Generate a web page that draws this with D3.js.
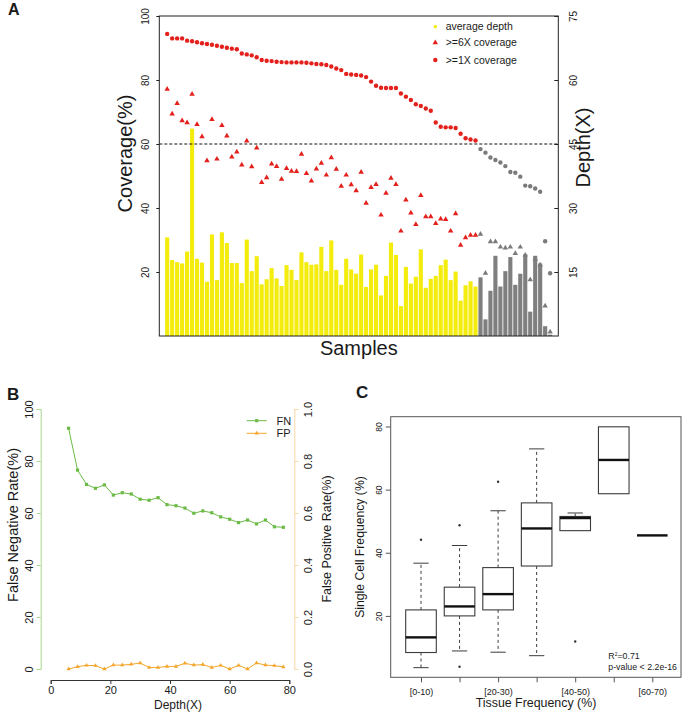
<!DOCTYPE html>
<html><head><meta charset="utf-8">
<script src="https://cdn.jsdelivr.net/npm/d3@7"></script>
<style>body{margin:0;background:#fff}svg{display:block;font-family:"Liberation Sans",Arial,Helvetica,sans-serif}</style>
</head><body>
<svg id="chart" width="685" height="716"></svg>
<script>
// ---------------- Panel A data ----------------
const avgDepth = [23.1,17.8,17.3,17.0,19.8,48.6,18.1,17.2,12.7,23.8,
  13.1,24.3,21.8,17.1,17.1,12.4,22.6,15.2,18.7,12.1,
  13.3,15.9,13.5,11.7,16.6,15.5,13.1,19.6,17.3,16.7,
  16.8,20.9,15.2,22.4,15.5,12.0,18.1,15.6,14.6,19.1,
  11.5,15.6,16.7,9.5,14.1,21.9,19.0,7.0,16.2,12.3,
  13.9,20.3,11.3,13.4,14.1,16.6,17.9,13.1,15.1,8.3,
  11.9,12.8,11.6,13.75,3.9,10.6,18.8,11.6,15.2,18.5,
  12.0,14.6,19.1,5.7,18.8,17.0,2.3,0.3];
const cov1X = [94.4,93.0,93.0,93.0,92.3,92.1,91.8,91.5,91.25,91.0,
  90.7,90.4,90.1,89.8,89.6,88.3,88.0,87.7,87.1,86.25,
  86.0,85.9,85.7,85.6,85.5,85.5,85.5,85.5,85.4,85.2,
  85.0,84.9,84.7,84.2,83.6,83.1,81.9,81.7,81.6,81.4,
  80.9,79.5,78.2,77.6,77.5,77.5,77.5,75.8,74.8,73.75,
  72.4,71.9,71.1,70.4,66.7,65.4,65.2,65.2,65.0,63.2,
  61.8,61.4,61.1,58.4,57.3,55.8,55.0,54.2,53.1,51.25,
  51.0,49.8,47.0,46.8,46.1,45.1,29.6,19.6];
const cov6X = [77.1,69.4,72.7,67.3,66.7,75.6,66.1,62.3,54.8,67.7,
  55.3,65.8,62.5,56.0,57.5,53.5,61.0,52.9,58.75,48.0,
  49.5,53.75,53.0,49.0,52.4,51.5,51.4,56.8,50.8,48.5,
  52.2,54.0,50.3,55.7,52.1,46.8,50.3,47.3,45.4,51.2,
  41.5,46.4,47.4,37.8,44.6,49.3,47.4,32.8,42.5,38.5,
  34.9,43.9,37.3,37.3,35.2,36.6,36.4,32.8,38.2,28.4,
  30.7,31.5,31.5,31.8,19.6,29.5,29.5,27.8,27.5,27.8,
  25.8,27.8,25.3,17.6,24.0,22.2,9.4,1.3];
const coverageCut = 60;
const covTicks = [20,40,60,80,100];
const depthTicks = [15,30,45,60,75];
const legendA = ["average depth", ">=6X coverage", ">=1X coverage"];

// ---------------- Panel B data ----------------
const depthB = [6,9,12,15,18,21,24,27,30,33,36,39,42,45,48,51,54,57,60,63,66,69,72,75,78];
const fnRate = [92.6,76.5,71.0,69.5,70.8,66.9,67.8,67.3,65.3,64.9,65.9,63.2,62.8,61.9,59.9,60.8,60.1,58.5,57.6,56.3,57.3,55.8,57.3,54.7,54.5];
const fpRate = [0.0,0.009,0.014,0.013,0.0,0.015,0.015,0.018,0.023,0.006,0.006,0.010,0.010,0.022,0.015,0.017,0.006,0.014,0.0,0.014,0.0,0.023,0.015,0.013,0.008];
const fnTicks = [0,20,40,60,80,100];
const fpTicks = [0,0.2,0.4,0.6,0.8,1.0];
const depthBTicks = [0,20,40,60,80];
const legendB = ["FN","FP"];

// ---------------- Panel C data ----------------
const tissueBins = ["[0-10)","[10-20)","[20-30)","[30-40)","[40-50)","[50-60)","[60-70)"];
const whiskerLo = [3.6,8.9,8.5,7.4,47.0,58.7,45.5];
const q1 =        [8.4,20.0,21.9,35.8,47.0,58.7,45.5];
const medianC =   [13.2,23.0,26.9,47.7,51.0,69.4,45.5];
const q3 =        [21.9,29.1,35.3,55.8,51.5,79.9,45.5];
const whiskerHi = [36.7,42.3,53.3,72.9,52.6,79.9,45.5];
const outliers =  [[44.1],[48.7,3.9],[62.5],[],[11.9],[],[]];
const cTicks = [20,40,60,80];

const svg = d3.select("#chart");
const TXT = "#1a1a1a";
const RED = "#e3201b", GRAY = "#7b7b7b", YELLOW = "#f3ec0c", GRAYBAR = "#7f7f7f";

// ================= Panel A =================
const A = svg.append("g");
const samples = avgDepth.map((d, i) => i);
const xA = d3.scaleBand().domain(samples).range([164.7, 552.6]).paddingInner(0.17).paddingOuter(0.085);
const yCov = d3.scaleLinear().domain([0, 100]).range([336, 16]);
const yDep = d3.scaleLinear().domain([0, 75]).range([336, 16]);
const frameA = [159.3, 558.3];
const isHigh = i => cov1X[i] >= coverageCut;

A.selectAll("rect.bar").data(avgDepth).join("rect")
  .attr("x", (d, i) => xA(i)).attr("width", xA.bandwidth())
  .attr("y", d => yDep(d)).attr("height", d => yDep(0) - yDep(d))
  .attr("fill", (d, i) => isHigh(i) ? YELLOW : GRAYBAR);

A.append("line").attr("x1", frameA[0]).attr("x2", frameA[1])
  .attr("y1", yCov(coverageCut)).attr("y2", yCov(coverageCut))
  .attr("stroke", "#111").attr("stroke-width", 1).attr("stroke-dasharray", "3,2");

const cx = i => xA(i) + xA.bandwidth() / 2;
A.selectAll("path.tri").data(cov6X).join("path")
  .attr("d", d3.symbol(d3.symbolTriangle, 13))
  .attr("transform", (d, i) => `translate(${cx(i)},${yCov(d)})`)
  .attr("fill", (d, i) => isHigh(i) ? RED : GRAY);
A.selectAll("circle.c1").data(cov1X).join("circle")
  .attr("cx", (d, i) => cx(i)).attr("cy", d => yCov(d)).attr("r", 2.2)
  .attr("fill", (d, i) => isHigh(i) ? RED : GRAY);

A.append("rect").attr("x", frameA[0]).attr("y", yCov(100))
  .attr("width", frameA[1] - frameA[0]).attr("height", yCov(0) - yCov(100))
  .attr("fill", "none").attr("stroke", "#222").attr("stroke-width", 1);

const axL = A.append("g").attr("transform", `translate(${frameA[0]},0)`)
  .call(d3.axisLeft(yCov).tickValues(covTicks).tickSize(3));
axL.select(".domain").remove();
axL.selectAll("line").attr("stroke", "#222");
axL.selectAll("text").attr("x", null).attr("dy", null).attr("text-anchor", "middle")
  .attr("transform", "translate(-10,0) rotate(-90)").attr("font-size", 10).attr("fill", TXT)
  .style("font-family", "inherit");

const axR = A.append("g").attr("transform", `translate(${frameA[1]},0)`)
  .call(d3.axisRight(yDep).tickValues(depthTicks).tickSize(-4));
axR.select(".domain").remove();
axR.selectAll("line").attr("stroke", "#222");
axR.selectAll("text").attr("x", null).attr("dy", null).attr("text-anchor", "middle")
  .attr("transform", "translate(18.5,0) rotate(-90)").attr("font-size", 10).attr("fill", TXT)
  .style("font-family", "inherit");

A.append("text").attr("transform", `translate(132,${(94 + 213) / 2}) rotate(-90)`)
  .attr("text-anchor", "middle").attr("font-size", 20).attr("fill", TXT).text("Coverage(%)");
A.append("text").attr("transform", `translate(590,${(107 + 188) / 2}) rotate(-90)`)
  .attr("text-anchor", "middle").attr("font-size", 20).attr("fill", TXT).text("Depth(X)");
A.append("text").attr("x", (frameA[0] + frameA[1]) / 2).attr("y", 355)
  .attr("text-anchor", "middle").attr("font-size", 20).attr("fill", TXT).text("Samples");
svg.append("text").attr("x", 8).attr("y", 15).attr("font-size", 16).attr("font-weight", "bold").attr("fill", TXT).text("A");

// legend A
const legY = [26.7, 42.7, 60];
const legA = A.append("g");
legA.append("rect").attr("x", 433.8).attr("y", legY[0] - 1.5).attr("width", 3).attr("height", 3).attr("fill", YELLOW);
legA.append("path").attr("d", d3.symbol(d3.symbolTriangle, 13)).attr("transform", `translate(435.3,${legY[1]})`).attr("fill", RED);
legA.append("circle").attr("cx", 435.3).attr("cy", legY[2]).attr("r", 2.2).attr("fill", RED);
legA.selectAll("text").data(legendA).join("text")
  .attr("x", 445.7).attr("y", (d, i) => legY[i] + 3.7).attr("font-size", 10.5).attr("fill", TXT).text(d => d);

// ================= Panel B =================
const B = svg.append("g");
const xB = d3.scaleLinear().domain([0, 80]).range([50.7, 289.3]);
const yFN = d3.scaleLinear().domain([0, 100]).range([669, 409]);
const yFP = d3.scaleLinear().domain([0, 1]).range([669, 409]);
const GREEN = "#6cbb47", ORANGE = "#f4a62a", GREENAX = "#a9d88f", ORANGEAX = "#f9d8a6";

const axBx = B.append("g").attr("transform", "translate(0,680)")
  .call(d3.axisBottom(xB).tickValues(depthBTicks).tickSize(4).tickPadding(2));
axBx.selectAll("path,line").attr("stroke", "#333");
axBx.selectAll("text").attr("font-size", 11).attr("fill", TXT).style("font-family", "inherit");

const axBl = B.append("g").attr("transform", "translate(40.7,0)")
  .call(d3.axisLeft(yFN).tickValues(fnTicks).tickSize(4));
axBl.selectAll("path,line").attr("stroke", GREENAX);
axBl.selectAll("text").attr("x", null).attr("dy", null).attr("text-anchor", "middle")
  .attr("transform", "translate(-7.5,0) rotate(-90)").attr("font-size", 11).attr("fill", TXT)
  .style("font-family", "inherit");

const axBr = B.append("g").attr("transform", "translate(294.3,0)")
  .call(d3.axisRight(yFP).tickValues(fpTicks).tickSize(4).tickFormat(d3.format(".1f")));
axBr.selectAll("path,line").attr("stroke", ORANGEAX);
axBr.selectAll("text").attr("x", null).attr("dy", null).attr("text-anchor", "middle")
  .attr("transform", "translate(17.5,0) rotate(-90)").attr("font-size", 11).attr("fill", TXT)
  .style("font-family", "inherit");

B.append("path").datum(fnRate)
  .attr("d", d3.line().x((d, i) => xB(depthB[i])).y(d => yFN(d)))
  .attr("fill", "none").attr("stroke", GREEN).attr("stroke-width", 1);
B.selectAll("rect.fn").data(fnRate).join("rect")
  .attr("x", (d, i) => xB(depthB[i]) - 1.6).attr("y", d => yFN(d) - 1.6)
  .attr("width", 3.2).attr("height", 3.2).attr("fill", GREEN);
B.append("path").datum(fpRate)
  .attr("d", d3.line().x((d, i) => xB(depthB[i])).y(d => yFP(d)))
  .attr("fill", "none").attr("stroke", ORANGE).attr("stroke-width", 1);
B.selectAll("path.fp").data(fpRate).join("path")
  .attr("d", d3.symbol(d3.symbolTriangle, 8))
  .attr("transform", (d, i) => `translate(${xB(depthB[i])},${yFP(d)})`).attr("fill", ORANGE);

B.append("text").attr("transform", "translate(18,525) rotate(-90)")
  .attr("text-anchor", "middle").attr("font-size", 14.5).attr("fill", TXT).text("False Negative Rate(%)");
B.append("text").attr("transform", "translate(331,539) rotate(-90)")
  .attr("text-anchor", "middle").attr("font-size", 12.5).attr("fill", TXT).text("False Positive Rate(%)");
B.append("text").attr("x", 178).attr("y", 709).attr("text-anchor", "middle")
  .attr("font-size", 12).attr("fill", TXT).text("Depth(X)");
svg.append("text").attr("x", 7).attr("y", 400).attr("font-size", 17).attr("font-weight", "bold").attr("fill", TXT).text("B");

// legend B
const legBY = [420.7, 433.3];
const legBColors = [GREEN, ORANGE];
legBY.forEach((y, i) => {
  B.append("line").attr("x1", 246.7).attr("x2", 266.7).attr("y1", y).attr("y2", y)
    .attr("stroke", legBColors[i]).attr("stroke-width", 1);
});
B.append("rect").attr("x", 255.1).attr("y", legBY[0] - 1.6).attr("width", 3.2).attr("height", 3.2).attr("fill", GREEN);
B.append("path").attr("d", d3.symbol(d3.symbolTriangle, 8)).attr("transform", `translate(256.7,${legBY[1]})`).attr("fill", ORANGE);
B.selectAll("text.leg").data(legendB).join("text")
  .attr("x", 276.5).attr("y", (d, i) => legBY[i] + 4).attr("font-size", 11).attr("fill", TXT).text(d => d);

// ================= Panel C =================
const C = svg.append("g");
const xC = d3.scaleLinear().domain([1, 7]).range([421, 652.3]);
const yC = d3.scaleLinear().domain([0.55, 83.1]).range([677.3, 416.7]);
const boxW = 30.6;
const BOX = "#3c3c3c";

C.append("rect").attr("x", 390.7).attr("y", yC(83.1)).attr("width", 681 - 390.7)
  .attr("height", yC(0.55) - yC(83.1)).attr("fill", "none").attr("stroke", "#555").attr("stroke-width", 1);

const axCy = C.append("g").attr("transform", "translate(390.7,0)")
  .call(d3.axisLeft(yC).tickValues(cTicks).tickSize(5));
axCy.select(".domain").remove();
axCy.selectAll("line").attr("stroke", "#555");
axCy.selectAll("text").attr("x", null).attr("dy", null).attr("text-anchor", "middle")
  .attr("transform", "translate(-9,0) rotate(-90)").attr("font-size", 8.5).attr("fill", TXT)
  .style("font-family", "inherit");

const axCx = C.append("g").attr("transform", `translate(0,${yC(0.55)})`)
  .call(d3.axisBottom(xC).tickValues(d3.range(1, tissueBins.length + 1)).tickSize(5).tickPadding(6)
    .tickFormat((d, i) => i % 2 === 0 ? tissueBins[i] : ""));
axCx.select(".domain").remove();
axCx.selectAll("line").attr("stroke", "#555");
axCx.selectAll("text").attr("font-size", 9).attr("fill", TXT).style("font-family", "inherit");

tissueBins.forEach((b, i) => {
  const x = xC(i + 1);
  const g = C.append("g");
  if (whiskerHi[i] > q3[i]) {
    g.append("line").attr("x1", x).attr("x2", x).attr("y1", yC(q3[i])).attr("y2", yC(whiskerHi[i]))
      .attr("stroke", BOX).attr("stroke-dasharray", "3,3");
    g.append("line").attr("x1", x - boxW / 4).attr("x2", x + boxW / 4).attr("y1", yC(whiskerHi[i])).attr("y2", yC(whiskerHi[i]))
      .attr("stroke", BOX);
  }
  if (whiskerLo[i] < q1[i]) {
    g.append("line").attr("x1", x).attr("x2", x).attr("y1", yC(q1[i])).attr("y2", yC(whiskerLo[i]))
      .attr("stroke", BOX).attr("stroke-dasharray", "3,3");
    g.append("line").attr("x1", x - boxW / 4).attr("x2", x + boxW / 4).attr("y1", yC(whiskerLo[i])).attr("y2", yC(whiskerLo[i]))
      .attr("stroke", BOX);
  }
  if (q3[i] > q1[i]) {
    g.append("rect").attr("x", x - boxW / 2).attr("y", yC(q3[i])).attr("width", boxW)
      .attr("height", yC(q1[i]) - yC(q3[i])).attr("fill", "#fff").attr("stroke", BOX).attr("stroke-width", 1.1);
  }
  g.append("line").attr("x1", x - boxW / 2).attr("x2", x + boxW / 2).attr("y1", yC(medianC[i])).attr("y2", yC(medianC[i]))
    .attr("stroke", "#111").attr("stroke-width", 2.4);
  g.selectAll("circle").data(outliers[i]).join("circle")
    .attr("cx", x).attr("cy", d => yC(d)).attr("r", 1.2).attr("fill", "#333");
});

const r2 = C.append("text").attr("x", 608.3).attr("y", 659.3).attr("font-size", 8.8).attr("fill", TXT);
r2.append("tspan").text("R");
r2.append("tspan").attr("font-size", 5).attr("dy", -3.5).text("2");
r2.append("tspan").attr("dy", 3.5).text("=0.71");
C.append("text").attr("x", 608.3).attr("y", 670.3).attr("font-size", 8.8).attr("fill", TXT).text("p-value < 2.2e-16");

C.append("text").attr("transform", "translate(364,547) rotate(-90)")
  .attr("text-anchor", "middle").attr("font-size", 12.2).attr("fill", TXT).text("Single Cell Frequency (%)");
C.append("text").attr("x", 536).attr("y", 706.5).attr("text-anchor", "middle")
  .attr("font-size", 12.4).attr("fill", TXT).text("Tissue Frequency (%)");
svg.append("text").attr("x", 356).attr("y", 398).attr("font-size", 17).attr("font-weight", "bold").attr("fill", TXT).text("C");
</script>
</body></html>
